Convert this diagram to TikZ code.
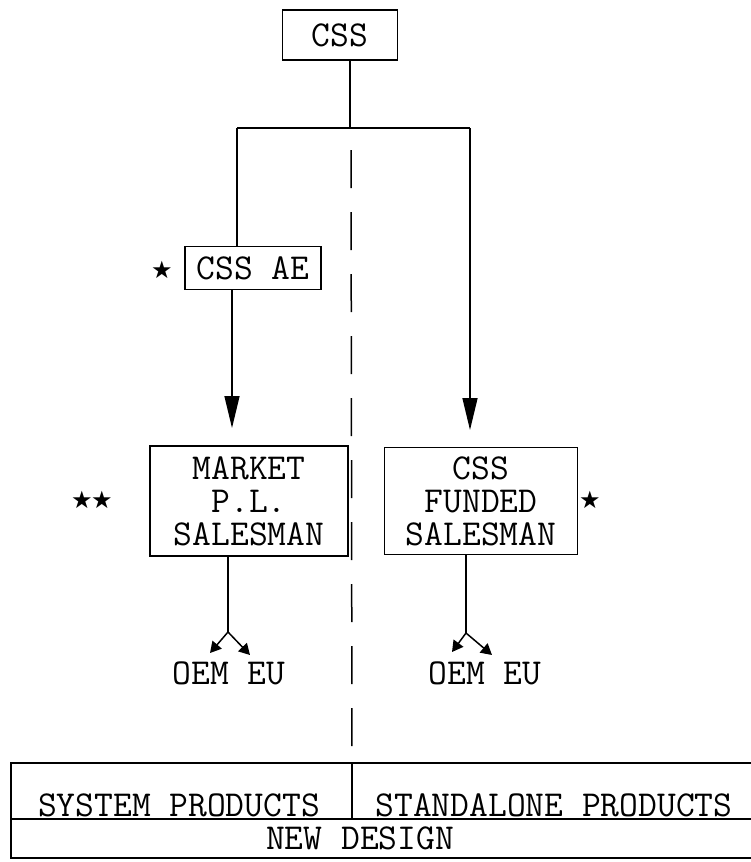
\documentclass[tikz,border=0pt]{standalone}
\usepackage{fontspec}
\newfontfamily\symfont{DejaVu Sans}
\usetikzlibrary{arrows.meta}
\begin{document}
\begin{tikzpicture}[x=1pt,y=-1pt,
  line width=1.5pt,
  typed/.style={font=\fontsize{36.5}{33}\selectfont\ttfamily, inner sep=0pt},
  box/.style={draw, typed, align=center},
  markstar/.style={font=\fontsize{24}{24}\selectfont\symfont, inner sep=0pt},
  bigtip/.style={-{Triangle[width=15pt,length=32pt]}},
  smalltip/.style={-{Triangle[width=12pt,length=11pt]}},
  divider/.style={dash pattern=on 38pt off 24pt}]
\useasboundingbox (0,0) rectangle (751,862);

% boxes
\node[box, minimum width=115pt, minimum height=50pt] (css) at (340,35) {CSS};
\node[box, minimum width=136pt, minimum height=43pt] (cssae) at (253,268) {CSS AE};
\node[box, minimum width=198pt, minimum height=110pt] (market) at (249,501) {MARKET\\P.L.\\SALESMAN};
\node[box, minimum width=193pt, minimum height=107pt] (funded) at (481,501) {CSS\\FUNDED\\SALESMAN};

% stars
\node[markstar] (starae) at (162,270) {★};
\node[markstar] (starmka) at (82,500) {★};
\node[markstar] (starmkb) at (102,500) {★};
\node[markstar] (starfd) at (590,500) {★};

% upper tree
\coordinate (bus) at (350,128);
\coordinate (busL) at (237,128);
\coordinate (busR) at (470,128);
\coordinate (tipL) at (232,428);
\coordinate (tipR) at (470,430);
\draw ([xshift=10pt]css.south) -- (bus);
\draw (busL) -- (busR);
\draw (busL) -- (busL |- cssae.north);
\draw[bigtip] (cssae.south -| tipL) -- (tipL);
\draw[bigtip] (busR) -- (tipR);

% forks to OEM / EU
\coordinate (forkL) at (228,632);
\coordinate (forkR) at (466,633);
\coordinate (oemL) at (210,653);
\coordinate (euL) at (250,655);
\coordinate (oemR) at (452,652);
\coordinate (euR) at (492,655);
\draw (market.south -| forkL) -- (forkL);
\draw[smalltip] (forkL) -- (oemL);
\draw[smalltip] (forkL) -- (euL);
\draw (funded.south -| forkR) -- (forkR);
\draw[smalltip] (forkR) -- (oemR);
\draw[smalltip] (forkR) -- (euR);
\node[typed] (labL) at (229,673) {OEM EU};
\node[typed] (labR) at (485,673) {OEM EU};

% product table
\coordinate (tl) at (11,763);
\coordinate (tr) at (751,763);
\coordinate (ml) at (11,819);
\coordinate (mr) at (751,819);
\coordinate (bl) at (11,858);
\coordinate (br) at (751,858);
\coordinate (split) at (352,763);
\coordinate (splitb) at (352,819);
\draw (tr) -- (tl) -- (bl) -- (br);
\draw (ml) -- (mr);
\draw (split) -- (splitb);
\node[typed] (sys) at (179,805) {SYSTEM PRODUCTS};
\node[typed] (std) at (554,805) {STANDALONE PRODUCTS};
\node[typed] (newd) at (360,838) {NEW DESIGN};

% dashed separation line
\coordinate (sepTop) at (351,150);
\draw[divider] (sepTop) -- (split);
\end{tikzpicture}
\end{document}
